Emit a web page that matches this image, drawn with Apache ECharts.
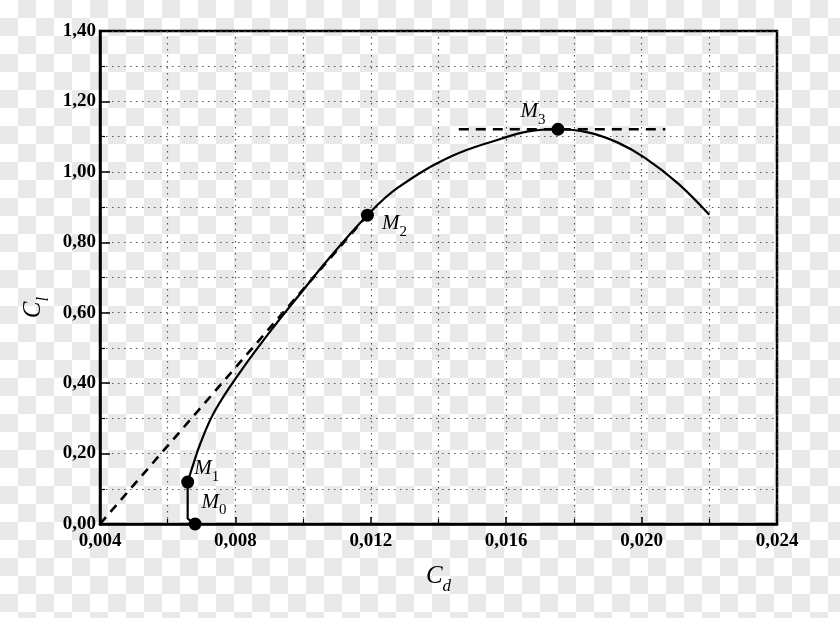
<!DOCTYPE html>
<html>
<head>
<meta charset="utf-8">
<script src="https://cdn.jsdelivr.net/npm/echarts@6/dist/echarts.min.js"></script>
<style>
html,body{margin:0;padding:0;}
body{width:840px;height:618px;background:repeating-conic-gradient(#e9e9e9 0 25%, #ffffff 0 50%) 0 0/36px 36px;}
#chart{width:840px;height:618px;}
</style>
</head>
<body>
<div id="chart"></div>
<script>
// Polar curve Cl(Cd)
const curveCd = [0.00659, 0.00675, 0.00695, 0.00738, 0.00815, 0.0091, 0.0101, 0.0107, 0.0119, 0.0128, 0.01438, 0.01585, 0.01665, 0.01753, 0.01841, 0.0193, 0.02011, 0.02109, 0.0220];
const curveCl = [0.119, 0.168, 0.225, 0.319, 0.433, 0.556, 0.676, 0.747, 0.877, 0.955, 1.044, 1.094, 1.115, 1.121, 1.112, 1.083, 1.039, 0.966, 0.878];
// short segment M1 -> M0
const stemCd = [0.00659, 0.00659, 0.00681];
const stemCl = [0.119, 0.015, 0.0];
// tangent from origin to M2 (dashed)
const tangentCd = [0.004, 0.0119];
const tangentCl = [0.0, 0.877];
// horizontal tangent at M3 (dashed)
const horizCd = [0.0146, 0.0207];
const horizCl = [1.121, 1.121];
// marked points
const pointNames = ['0', '1', '2', '3'];
const pointCd = [0.00681, 0.00659, 0.0119, 0.01753];
const pointCl = [0.0, 0.119, 0.877, 1.121];

const zip = (a, b) => a.map((v, i) => [v, b[i]]);
const serif = "'Liberation Serif', 'DejaVu Serif', serif";
const ink = '#000';
const dotted = {color: '#555', width: 1.2, type: [1.5, 4.5]};

const labelCfg = [
  {position: 'right', distance: 0, offset: [0, -19]},
  {position: 'right', distance: 0, offset: [0, -11]},
  {position: 'right', distance: 8, offset: [0, 11]},
  {position: 'left', distance: 6, offset: [0, -15]}
];

const chart = echarts.init(document.getElementById('chart'), null, {renderer: 'canvas'});
chart.setOption({
  animation: false,
  backgroundColor: 'transparent',
  grid: {left: 100, right: 63, top: 31, bottom: 94, show: true, borderColor: ink, borderWidth: 2.5, backgroundColor: 'transparent'},
  xAxis: {
    type: 'value', min: 0.004, max: 0.024, interval: 0.004,
    name: '{c|C}{s|d}', nameLocation: 'middle', nameGap: 40,
    nameTextStyle: {rich: {
      c: {fontFamily: serif, fontStyle: 'italic', fontSize: 25, color: ink, verticalAlign: 'bottom', padding: [0, 0, 6, 0]},
      s: {fontFamily: serif, fontStyle: 'italic', fontSize: 17, color: ink, verticalAlign: 'bottom'}
    }},
    axisLine: {onZero: false, lineStyle: {color: ink, width: 2.5}},
    axisTick: {inside: true, length: 7, lineStyle: {color: ink, width: 1.5}},
    minorTick: {show: true, splitNumber: 2, length: 5, lineStyle: {color: ink, width: 1.2}},
    splitLine: {show: true, lineStyle: dotted},
    minorSplitLine: {show: true, lineStyle: dotted},
    axisLabel: {formatter: v => v.toFixed(3).replace('.', ','), fontFamily: serif, fontWeight: 'bold', fontSize: 19, color: ink, margin: 8}
  },
  yAxis: {
    type: 'value', min: 0, max: 1.4, interval: 0.2,
    name: '{c|C}{s|l}', nameLocation: 'middle', nameGap: 48, nameRotate: 90,
    nameTextStyle: {padding: [0, 60, 0, 0], rich: {
      c: {fontFamily: serif, fontStyle: 'italic', fontSize: 25, color: ink, verticalAlign: 'bottom', padding: [0, 0, 6, 0]},
      s: {fontFamily: serif, fontStyle: 'italic', fontSize: 17, color: ink, verticalAlign: 'bottom'}
    }},
    axisLine: {onZero: false, lineStyle: {color: ink, width: 2.5}},
    axisTick: {inside: true, length: 10, lineStyle: {color: ink, width: 1.5}},
    minorTick: {show: true, splitNumber: 2, length: 5, lineStyle: {color: ink, width: 1.2}},
    splitLine: {show: true, lineStyle: dotted},
    minorSplitLine: {show: true, lineStyle: dotted},
    axisLabel: {formatter: v => v.toFixed(2).replace('.', ','), fontFamily: serif, fontWeight: 'bold', fontSize: 19, color: ink, margin: 4}
  },
  series: [
    {type: 'line', data: zip(curveCd, curveCl), smooth: 0.4, showSymbol: false, silent: true,
     lineStyle: {color: ink, width: 2.2}},
    {type: 'line', data: zip(stemCd, stemCl), showSymbol: false, silent: true,
     lineStyle: {color: ink, width: 2.2}},
    {type: 'line', data: zip(tangentCd, tangentCl), showSymbol: false, silent: true,
     lineStyle: {color: ink, width: 2.6, type: [9, 7]}},
    {type: 'line', data: zip(horizCd, horizCl), showSymbol: false, silent: true,
     lineStyle: {color: ink, width: 2.6, type: [10, 7]}},
    {type: 'scatter', symbol: 'circle', symbolSize: 13, silent: true,
     itemStyle: {color: ink, opacity: 1},
     data: pointNames.map((n, i) => ({
       value: [pointCd[i], pointCl[i]], name: n,
       label: Object.assign({show: true, formatter: '{m|M}{s|' + n + '}'}, labelCfg[i])
     })),
     label: {opacity: 1, color: ink, rich: {
       m: {fontFamily: serif, fontStyle: 'italic', fontSize: 21, color: ink, opacity: 1, verticalAlign: 'bottom', padding: [0, 0, 5, 0]},
       s: {fontFamily: serif, fontSize: 15, color: ink, opacity: 1, verticalAlign: 'bottom'}
     }}
    }
  ]
});
</script>
</body>
</html>
